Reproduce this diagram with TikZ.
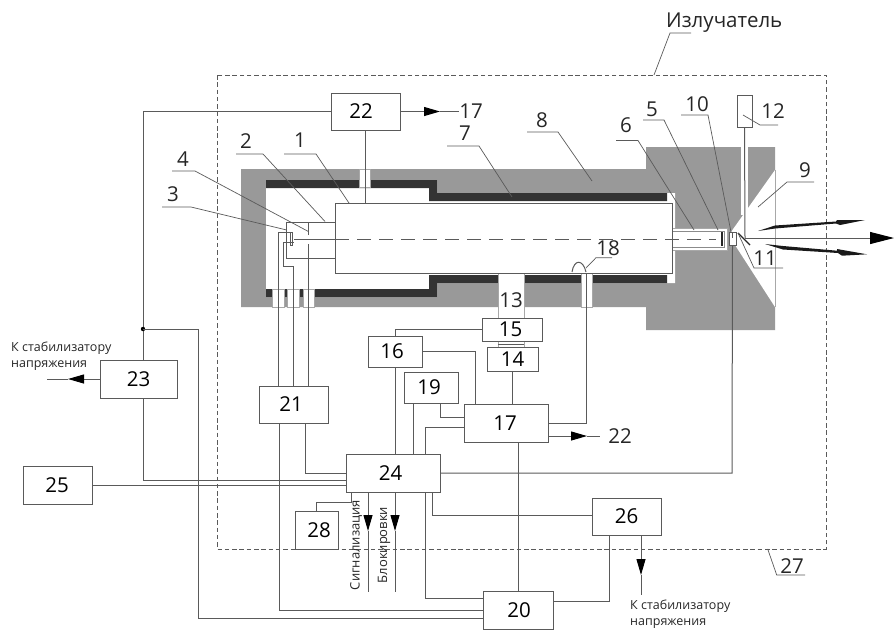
\documentclass[tikz,border=0pt]{standalone}
\usepackage{fontspec}
\setmainfont{Open Sans}
\usetikzlibrary{arrows.meta}
\definecolor{bodygray}{HTML}{999999}
\definecolor{darkband}{HTML}{333333}
\definecolor{wire}{HTML}{5A5A5A}
\definecolor{lite}{HTML}{A8A8A8}
\newcommand\tx[2]{\hspace*{#1pt}#2}
\tikzset{
  block/.style={draw=wire,fill=white,line width=1pt,inner sep=0pt,outer sep=0pt,font=\fontsize{20.5}{24}\selectfont},
  conn/.style={draw=wire,line width=1pt},
  lead/.style={draw=wire,line width=.7pt},
  lbl/.style={inner sep=0pt,font=\fontsize{20.5}{24}\selectfont,text=black!85},
  small/.style={inner sep=0pt,font=\fontsize{12.5}{16}\selectfont,align=left,anchor=north west,text=black!85},
  vsmall/.style={inner sep=0pt,font=\fontsize{13}{15}\selectfont,rotate=90,text=black!85},
  arr/.style={draw=wire,line width=1pt,-{Triangle[length=16pt,width=9pt,color=black]}},
  through/.style={fill=white,draw=lite,line width=.9pt},
}
\begin{document}
\begin{tikzpicture}[x=1pt,y=-1pt]
\useasboundingbox (0,0) rectangle (894,630);
% body
\fill[bodygray] (241,169)--(646,169)--(646,147)--(775,147)--(775,330)--(646,330)--(646,307)--(241,307)--cycle;
\fill[white] (266,180)--(437,180)--(437,193)--(675,193)--(675,283)--(437,283)--(437,297)--(266,297)--cycle;
\fill[darkband] (266,180)--(437,180)--(437,193)--(667,193)--(667,201)--(429,201)--(429,188)--(266,188)--cycle;
\fill[darkband] (266,297)--(437,297)--(437,283)--(667,283)--(667,275)--(429,275)--(429,289)--(266,289)--cycle;
\fill[white] (731,232)--(775,170)--(775,307)--(735,245)--cycle;
\fill[white] (741,147) rectangle (748,215);
\draw[lite,line width=.8pt] (775,170)--(775,307);
% feedthroughs
\draw[through] (359,169) rectangle (370,187);
\draw[through] (272,289) rectangle (284,307);
\draw[through] (287,289) rectangle (299,307);
\draw[through] (303,289) rectangle (314,307);
\draw[through] (581,273) rectangle (592,307);
\draw[through] (498,273) rectangle (524,318);
\draw[lite,line width=.9pt] (498,341)--(498,347) (524,341)--(524,347);
\draw[wire,line width=.8pt] (498,344)--(524,344);
% tube
\draw[fill=white,draw=lite,line width=.8pt] (672,228) rectangle (727,250);
\draw[draw=wire!70,line width=.8pt] (672,231)--(724,231)--(724,247)--(672,247);
% frame
\draw[wire,line width=1pt,dash pattern=on 4.5pt off 2.8pt] (217,75) rectangle (826,549);
% blocks
\node[block,minimum width=69pt,minimum height=37pt] (b22) at (365.5,111.5) {\tx{-9}{22}};
\node[block,minimum width=337pt,minimum height=70pt] (b1) at (503.5,238) {};
\node[block,minimum width=77pt,minimum height=38pt] (b23) at (138.5,379) {23};
\node[block,minimum width=69pt,minimum height=38pt] (b25) at (58,485) {\tx{-2}{25}};
\node[block,minimum width=60pt,minimum height=23pt] (b15) at (512,329.5) {\tx{-3}{15}};
\node[block,minimum width=51pt,minimum height=24pt] (b14) at (512.5,359) {14};
\node[block,minimum width=54pt,minimum height=31pt] (b16) at (395,351.5) {\tx{-6}{16}};
\node[block,minimum width=54pt,minimum height=31pt] (b19) at (431,387.5) {\tx{-4}{19}};
\node[block,minimum width=84pt,minimum height=38pt] (b17) at (506,423) {\tx{-2}{17}};
\node[block,minimum width=69pt,minimum height=37pt] (b21) at (293.5,404.5) {\tx{-5}{21}};
\node[block,minimum width=94pt,minimum height=38pt] (b24) at (393,473) {\tx{-5}{24}};
\node[block,minimum width=43pt,minimum height=38pt] (b28) at (316.5,530) {\tx{5}{28}};
\node[block,minimum width=70pt,minimum height=38pt] (b20) at (518,610) {\tx{2}{20}};
\node[block,minimum width=69pt,minimum height=37pt] (b26) at (626.5,516.5) {26};
\node[block,minimum width=15pt,minimum height=32pt] (b12) at (744.5,111) {};
\node[draw=wire,fill=white,line width=.8pt,minimum width=7pt,minimum height=13pt,inner sep=0pt,outer sep=0pt] (b11) at (732.5,238.5) {};
% x guides
\coordinate (x143) at (143,0);
\coordinate (x278) at (278,0);
\coordinate (x280) at (279.6,0);
\coordinate (x293) at (293.3,0);
\coordinate (x306) at (305.7,0);
\coordinate (x309) at (308.7,0);
\coordinate (x351) at (351,0);
\coordinate (x368) at (368,0);
\coordinate (x395) at (395,0);
\coordinate (x413) at (413,0);
\coordinate (x425) at (425,0);
\coordinate (x433) at (432.5,0);
\coordinate (x440) at (440,0);
\coordinate (x475) at (475,0);
\coordinate (x512) at (512.5,0);
\coordinate (x518) at (518,0);
\coordinate (x609) at (609.3,0);
\coordinate (x641) at (641,0);
\coordinate (dot) at (143,329);
% connectors
\draw[conn] (b22.west) -- (b22.west -| x143) -- (dot);
\draw[conn] (dot) -- (x143 |- b23.north);
\draw[conn] (x143 |- b23.south) -- (143,480) -- (346,480);
\fill[black] (dot) circle (2.2);
\draw[conn] (dot) -- (198.5,329) -- (198.5,618.5) -- (483,618.5);
\draw[conn] (b25.east) -- (346,485);
\draw[arr] (b22.east) -- (440,111.5);
\draw[conn] (440,111.5) -- (459,111.5);
\draw[conn] (b22.south) -- (b22.south |- b1.north);
\draw[arr] (b23.west) -- (68,379);
\draw[conn] (68,379) -- (47,379);
\draw[conn] (b15.west) -| (b16.north);
\draw[conn] (b16.south) -- (b16.south |- b24.north);
\draw[conn] (b16.east) -| (x475 |- b17.north);
\draw[conn] (x512 |- b14.south) -- (x512 |- b17.north);
\draw[conn] (x413 |- b19.south) -- (x413 |- b24.north);
\draw[conn] (x440 |- b19.south) -- (440,417) -- (464,417);
\draw[conn] (464,427) -- (425,427) -- (x425 |- b24.north);
\draw[conn] (548,423) -- (586.7,423) -- (586.7,273);
\draw[arr] (548,436) -- (587,436);
\draw[conn] (587,436) -- (600,436);
\draw[conn] (x518 |- b17.south) -- (x518 |- b20.north);
\draw[conn] (x280 |- b21.south) -- (279.6,610) -- (483,610);
\draw[conn] (x306 |- b21.south) -- (305.7,473) -- (b24.west);
\draw[conn] (b24.east) -- (732,473) -- (b11.south);
\draw[conn] (x351 |- b24.south) -- (351,502) -- (316,502) -- (316,511);
\draw[arr] (x368 |- b24.south) -- (368,531);
\draw[conn] (368,531) -- (368,592);
\draw[arr] (x395 |- b24.south) -- (395,531);
\draw[conn] (395,531) -- (395,592);
\draw[conn] (x425 |- b24.south) -- (425,598) -- (483,598);
\draw[conn] (x433 |- b24.south) -- (432.5,515) -- (592,515);
\draw[conn] (553,601) -- (609.3,601) -- (x609 |- b26.south);
\draw[arr] (x641 |- b26.south) -- (641,575);
\draw[conn] (641,575) -- (641,595);
% inner wiring
\draw[conn] (x278 |- b21.north) -- (278,232) -- (292.7,232) -- (292.7,245) -- (290,245) -- (290,232);
\draw[conn] (x293 |- b21.north) -- (293.3,266) -- (283,266) -- (283,242) -- (294,242);
\draw[conn] (x309 |- b21.north) -- (308.7,244);
\draw[conn] (308.7,235) -- (308.7,222);
\draw[conn] (335,222) -- (286,222) -- (286,258) -- (335,258);
\draw[conn] (294,239) -- (335,239);
\draw[conn,dash pattern=on 14pt off 8pt] (335,239) -- (716,239);
\draw[line width=2.4pt,black!85] (721.7,232) -- (721.7,246);
\draw[wire,line width=.8pt] (732.5,233) -- (732.5,238);
% arc of 18
\draw[conn] (572,272) .. controls (574,259) and (583,259) .. (586,272);
% optical axis and beams
\draw[conn] (b12.south) -- (745,238);
\draw[draw=wire,line width=1pt,-{Triangle[length=24pt,width=12pt,color=black]}] (745,238) -- (894,238);
\fill[black!90] (758,231) -- (775,225.5) -- (836,221.5) -- (837,220) -- (865,220) -- (840,225) -- (836,223.5) -- (775,228.5) -- cycle;
\fill[black!90] (765,244) -- (783,246) -- (837,250.7) -- (837,249) -- (867,254.3) -- (842,255.7) -- (838,253) -- (783,249.5) -- cycle;
\draw[line width=1.1pt,black!85] (738,233) -- (750,245);
% leaders
\draw[lead] (172,171) -- (195,171) -- (308.6,231.6);
\draw[lead] (162,207) -- (191,207) -- (286.7,230);
\draw[lead] (236,154) -- (263,154) -- (325,221.5);
\draw[lead] (284,154) -- (316,154) -- (349,203);
\draw[lead] (447,146) -- (479,146) -- (512,197);
\draw[lead] (527,132) -- (558,132) -- (592,181);
\draw[lead] (616,140.5) -- (638,140.5) -- (694,230);
\draw[lead] (643,120) -- (664,120) -- (718,230);
\draw[lead] (681,115) -- (708,115) -- (731,232);
\draw[lead] (743,115) -- (760,125) -- (778,125);
\draw[lead] (814,182) -- (787,182) -- (758,207);
\draw[lead] (738,233) -- (754,268) -- (783,268);
\draw[lead] (586,268) -- (596,257.7) -- (612,257.7);
\draw[lead] (691,33) -- (670,33) -- (654,75);
\draw[lead] (767.7,549) -- (776.7,575) -- (805,575);
% labels
\node[lbl] (l1) at (300,140) {1};
\node[lbl] (l2) at (246,141) {2};
\node[lbl] (l3) at (173,194) {3};
\node[lbl] (l4) at (183,159) {4};
\node[lbl] (l5) at (652,109) {5};
\node[lbl] (l6) at (626,125) {6};
\node[lbl] (l7) at (465,133) {7};
\node[lbl] (l8) at (542,120) {8};
\node[lbl] (l9) at (805,170) {9};
\node[lbl] (l10) at (697,104) {10};
\node[lbl] (l11) at (765,258) {11};
\node[lbl] (l12) at (773,111) {12};
\node[lbl] (l13) at (511,300) {13};
\node[lbl] (l18) at (608,248) {18};
\node[lbl] (l17) at (471,111) {17};
\node[lbl] (l22) at (620,436) {22};
\node[lbl] (l27) at (792,566) {27};
\node[lbl,anchor=west] (lrad) at (666,23) {Излучатель};
\node[small] (s1) at (11,342) {К стабилизатору\\напряжения};
\node[small] (s2) at (630,600) {К стабилизатору\\напряжения};
\node[vsmall] (s3) at (356,545) {Сигнализация};
\node[vsmall] (s4) at (384,545) {Блокировки};
\end{tikzpicture}
\end{document}
